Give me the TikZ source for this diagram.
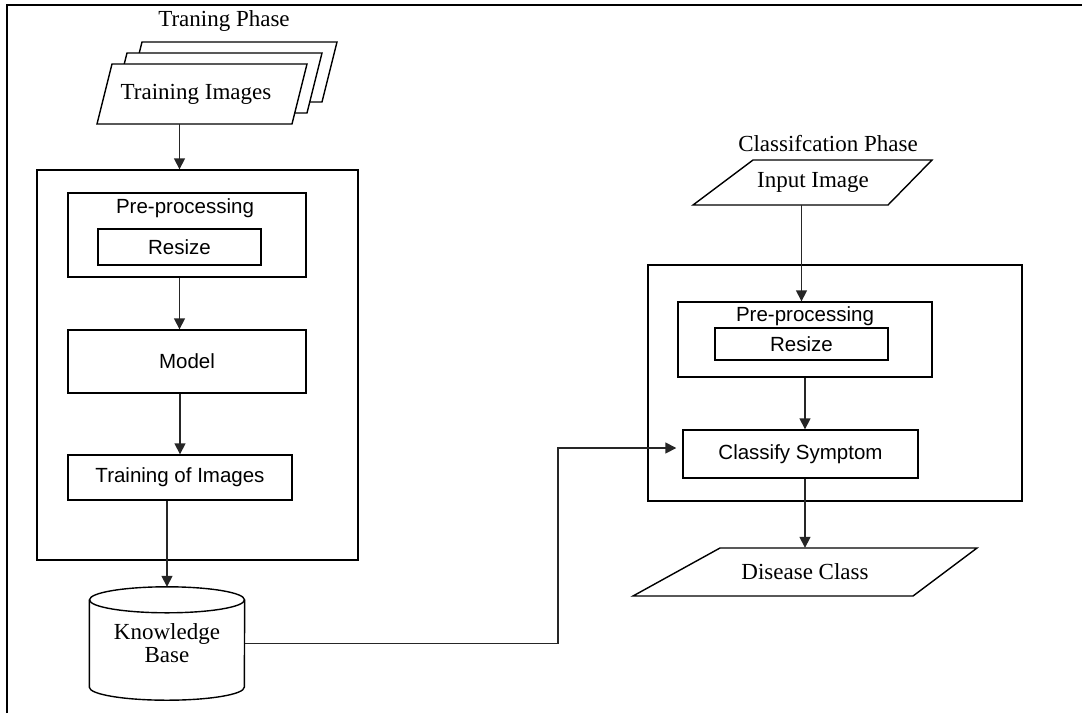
\documentclass[tikz,border=0pt]{standalone}
\usepackage{fontspec}
\setmainfont{Liberation Serif}
\newfontfamily\arialfont{Liberation Sans}
\usetikzlibrary{arrows.meta,calc}
\begin{document}
\begin{tikzpicture}[x=1pt,y=-1pt,
  box/.style={draw=black, line width=1.4pt, rectangle, inner sep=0pt},
  sans/.style={font=\arialfont\fontsize{20.5}{24}\selectfont},
  serif/.style={font=\fontsize{23}{23}\selectfont},
  arr/.style={draw=black!85, line width=1.6pt, -{Triangle[length=11pt,width=11pt]}},
  shp/.style={draw=black, line width=1.4pt, fill=white}]
\useasboundingbox (0,0) rectangle (1082,713);
% frame
\draw[line width=2pt] (7,713) -- (7,5) -- (1082,5);

% training images stack
\draw[shp] (142,42) -- (337,42) -- (322,102) -- (127,102) -- cycle;
\draw[shp] (127,53) -- (322,53) -- (307,113) -- (112,113) -- cycle;
\draw[shp] (112,64) -- (307,64) -- (292,124) -- (97,124) -- cycle;
\node[serif] (tp) at (224,21) {Traning Phase};
\node[serif, minimum height=60, inner sep=0] (ti) at (196,94) {Training Images};

% left phase
\node[box, minimum width=321, minimum height=390] (bigL) at (197.5,365) {};
\node[box, minimum width=238, minimum height=84] (pre1) at (187,235) {};
\node[sans] (pre1t) at (185,208) {Pre-processing};
\node[box, sans, minimum width=163, minimum height=36] (rs1) at (179.5,247) {Resize};
\node[box, sans, minimum width=238, minimum height=63] (model) at (187,361.5) {Model};
\node[box, sans, minimum width=224, minimum height=45] (train) at (180,477.5) {Training of Images};

% knowledge base cylinder
\node[serif, align=center, minimum width=155, minimum height=113, inner sep=0] (kb) at (167,643.5) {Knowledge\\Base};
\draw[line width=1.4pt] ($(kb.north west)+(0,13)$) -- ($(kb.south west)+(0,-13)$)
  arc[start angle=180, end angle=0, x radius=77.5, y radius=13] -- ($(kb.north east)+(0,13)$);
\draw[line width=1.4pt] ($(kb.north)+(0,13)$) ellipse [x radius=77.5, y radius=13];

% right phase
\node[serif] (cp) at (828,144) {Classifcation Phase};
\draw[shp] (753,160) -- (932,160) -- (888,205) -- (693,205) -- cycle;
\node[serif, minimum height=45, inner sep=0] (inp) at (813,182.5) {Input Image};
\node[box, minimum width=374, minimum height=236] (bigR) at (835,383) {};
\node[box, minimum width=254, minimum height=75] (pre2) at (805,339.5) {};
\node[sans] (pre2t) at (805,316) {Pre-processing};
\node[box, sans, minimum width=173, minimum height=32] (rs2) at (801.5,344) {Resize};
\node[box, sans, minimum width=235, minimum height=48] (cls) at (800.5,454) {Classify Symptom};
\draw[shp] (720,548) -- (977,548) -- (913,596) -- (633,596) -- cycle;
\node[serif, minimum height=48, inner sep=0] (dc) at (805,572) {Disease Class};

% connectors
\draw[arr] (ti.south -| rs1) -- (bigL.north -| rs1);
\draw[arr] (pre1.south -| rs1) -- (model.north -| rs1);
\draw[arr] (model.south -| train) -- (train.north);
\draw[arr] (train.south -| kb) -- (kb.north);
\coordinate (elbow) at (558,448);
\draw[arr, shorten >=6pt] (kb.east) -| (elbow) -- (elbow -| cls.west);
\draw[arr] (inp.south -| rs2) -- (pre2.north -| rs2);
\draw[arr] (pre2.south) -- (cls.north -| pre2);
\draw[arr] (cls.south -| pre2) -- (dc.north -| pre2);
\end{tikzpicture}
\end{document}
